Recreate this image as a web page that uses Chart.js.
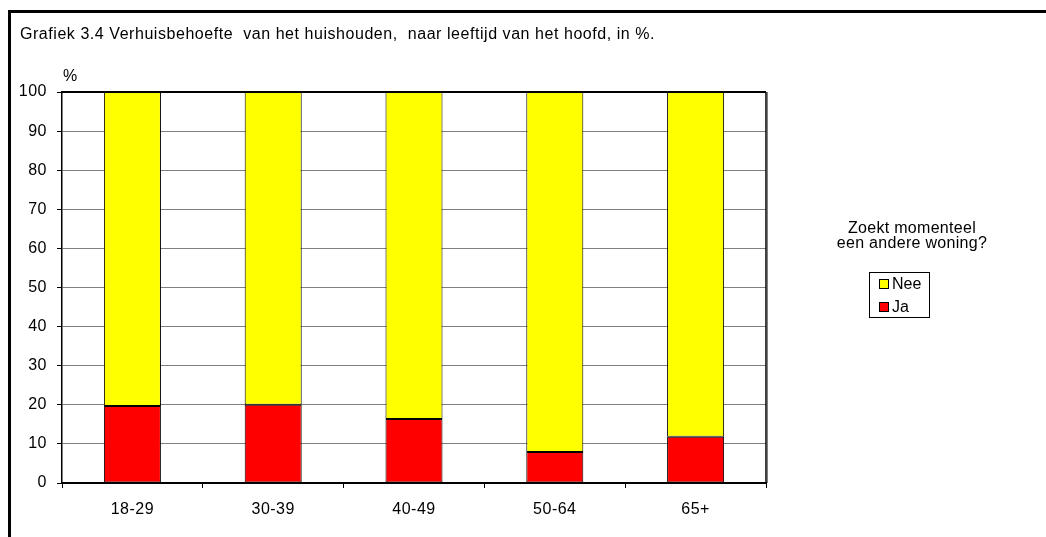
<!DOCTYPE html>
<html>
<head>
<meta charset="utf-8">
<script src="https://cdn.jsdelivr.net/npm/chart.js@4/dist/chart.umd.min.js"></script>
<style>
  body { margin: 0; background: #fff; font-family: "Liberation Sans", Arial, sans-serif; color: #000; }
  #wrap { position: relative; width: 1046px; height: 537px; overflow: hidden; }
  #frame { position: absolute; left: 8px; top: 10px; width: 1200px; height: 700px; border: 3px solid #000; box-sizing: border-box; }
  #chart { position: absolute; left: 0; top: 0; }
  .txt { position: absolute; white-space: nowrap; font-size: 16px; line-height: 16px; }
  #title { left: 20px; top: 26px; letter-spacing: 0.55px; }
  #unit { left: 63px; top: 68px; }
  #legTitle { left: 812px; top: 220px; width: 200px; text-align: center; letter-spacing: 0.3px; line-height: 15px; }
  #legend { position: absolute; left: 869px; top: 272px; width: 61px; height: 46px; border: 1px solid #000; box-sizing: border-box; font-size: 16px; }
  .item { position: absolute; left: 9px; height: 16px; line-height: 16px; }
  .sw { display: inline-block; width: 8px; height: 8px; border: 1px solid #000; margin-right: 3px; vertical-align: 0px; }
</style>
</head>
<body>
<div id="wrap">
  <div id="frame"></div>
  <canvas id="chart" width="1046" height="537"></canvas>
  <div class="txt" id="title">Grafiek 3.4 Verhuisbehoefte&nbsp; van het huishouden,&nbsp; naar leeftijd van het hoofd, in %.</div>
  <div class="txt" id="unit">%</div>
  <div class="txt" id="legTitle">Zoekt momenteel<br>een andere woning?</div>
  <div id="legend"></div>
</div>
<script>
const categories = ['18-29', '30-39', '40-49', '50-64', '65+'];
const jaValues = [19.7, 20.0, 16.4, 7.9, 11.8];
const neeValues = [80.3, 80.0, 83.6, 92.1, 88.2];
const yTicks = [0, 10, 20, 30, 40, 50, 60, 70, 80, 90, 100];
const seriesNames = ['Ja', 'Nee'];
const seriesColors = ['#ff0000', '#ffff00'];

// legend, Nee on top like the original
const legend = document.getElementById('legend');
[1, 0].forEach((i, row) => {
    const div = document.createElement('div');
    div.className = 'item';
    div.style.top = (3 + row * 23) + 'px';
    div.innerHTML = `<span class="sw" style="background:${seriesColors[i]}"></span>${seriesNames[i]}`;
    legend.appendChild(div);
});

const plotBorder = {
    id: 'plotBorder',
    beforeDraw(chart) {
        chart.ctx.letterSpacing = '0.5px';
    },
    afterDraw(chart) {
        const { ctx, chartArea: a } = chart;
        ctx.save();
        ctx.strokeStyle = '#000';
        ctx.lineWidth = 2;
        ctx.beginPath();
        ctx.moveTo(a.left, a.top);
        ctx.lineTo(a.right, a.top);
        ctx.stroke();
        ctx.lineWidth = 1.5;
        ctx.beginPath();
        ctx.moveTo(a.right, a.top);
        ctx.lineTo(a.right, a.bottom);
        ctx.stroke();
        ctx.strokeStyle = '#808080';
        ctx.lineWidth = 1;
        ctx.beginPath();
        ctx.moveTo(a.right + 1.5, a.top);
        ctx.lineTo(a.right + 1.5, a.bottom);
        ctx.stroke();
        ctx.restore();
    }
};

const font = { family: '"Liberation Sans", Arial, sans-serif', size: 16 };

new Chart(document.getElementById('chart'), {
    type: 'bar',
    data: {
        labels: categories,
        datasets: [jaValues, neeValues].map((vals, i) => ({
            label: seriesNames[i],
            data: vals,
            backgroundColor: seriesColors[i],
            borderColor: '#000',
            borderWidth: 1,
            borderSkipped: false,
            categoryPercentage: 1,
            barPercentage: 0.405
        }))
    },
    options: {
        responsive: false,
        animation: false,
        layout: { padding: { left: 0, top: 92, right: 280, bottom: 0 } },
        plugins: { legend: { display: false }, tooltip: { enabled: false } },
        scales: {
            x: {
                stacked: true,
                afterFit: s => { s.height = 54; },
                grid: { drawOnChartArea: false, tickLength: 5, tickColor: '#000', offset: true },
                border: { color: '#000', width: 2 },
                ticks: { color: '#000', font: font, padding: 12 }
            },
            y: {
                stacked: true,
                min: 0,
                max: 100,
                afterFit: s => { s.width = 62; },
                afterBuildTicks: s => { s.ticks = yTicks.map(v => ({ value: v })); },
                grid: { color: '#808080', tickColor: '#000', tickLength: 5 },
                border: { color: '#000', width: 1.5 },
                ticks: { color: '#000', font: font, padding: 10 }
            }
        }
    },
    plugins: [plotBorder]
});
</script>
</body>
</html>
